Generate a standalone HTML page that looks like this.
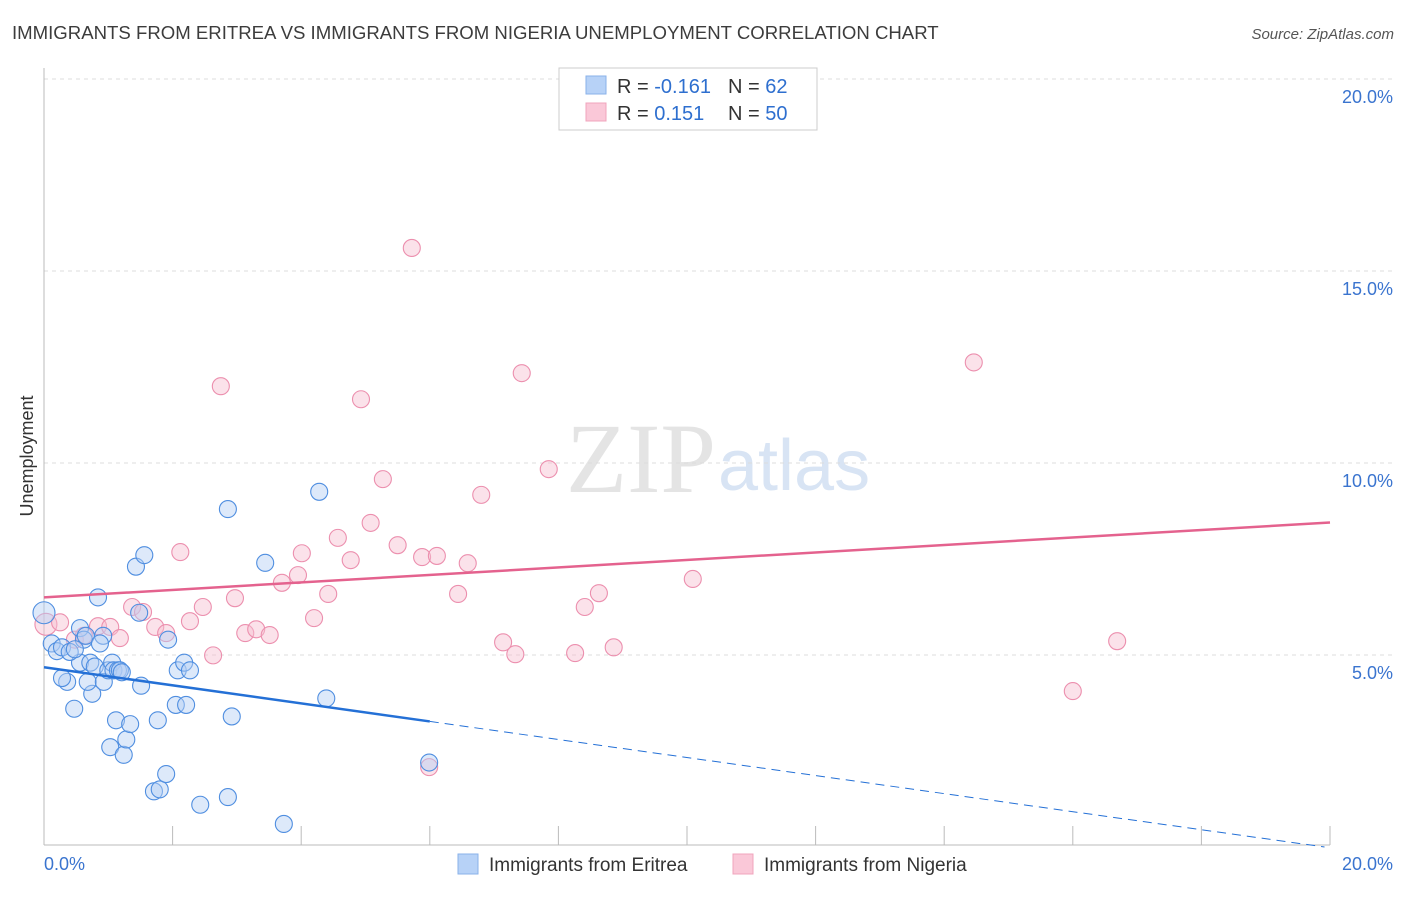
<!DOCTYPE html>
<html><head><meta charset="utf-8"><style>
body{margin:0;background:#fff;font-family:"Liberation Sans",sans-serif}
svg text{font-family:"Liberation Sans",sans-serif}
</style></head><body>
<svg id="chart" width="1406" height="892" xmlns="http://www.w3.org/2000/svg">
<text x="12" y="39" font-size="18.6" fill="#3c3c3c">IMMIGRANTS FROM ERITREA VS IMMIGRANTS FROM NIGERIA UNEMPLOYMENT CORRELATION CHART</text>
<text x="1394" y="39" font-size="15" font-style="italic" fill="#555" text-anchor="end">Source: ZipAtlas.com</text>
<text x="716" y="492" font-size="100" fill="#e4e4e4" text-anchor="end" style="font-family:'Liberation Serif',serif">ZIP</text>
<text x="718" y="490" font-size="72" fill="#d8e4f4">atlas</text>
<text transform="translate(33,456) rotate(-90)" font-size="18" fill="#333" text-anchor="middle">Unemployment</text>
<g id="grid"></g><g id="marks"></g>
<g>
<rect x="559" y="68" width="258" height="62" fill="#fff" stroke="#ccc"/>
<rect x="586" y="76" width="20" height="18" fill="#b7d2f7" stroke="#8ab2ea"/>
<rect x="586" y="103" width="20" height="18" fill="#fac8d8" stroke="#f0a4bc"/>
<text x="617" y="93" font-size="20" fill="#333">R = <tspan fill="#2e6fcf">-0.161</tspan></text>
<text x="728" y="93" font-size="20" fill="#333">N = <tspan fill="#2e6fcf"> 62</tspan></text>
<text x="617" y="120" font-size="20" fill="#333">R = <tspan fill="#2e6fcf"> 0.151</tspan></text>
<text x="728" y="120" font-size="20" fill="#333">N = <tspan fill="#2e6fcf">50</tspan></text>
</g>
<g>
<rect x="458" y="854" width="20" height="20" fill="#b7d2f7" stroke="#8ab2ea"/>
<text x="489" y="871" font-size="19" fill="#333">Immigrants from Eritrea</text>
<rect x="733" y="854" width="20" height="20" fill="#fac8d8" stroke="#f0a4bc"/>
<text x="764" y="871" font-size="19" fill="#333">Immigrants from Nigeria</text>
</g>
</svg>
<script>
const yTicks=[5,10,15,20];
const yTickLabels=["5.0%","10.0%","15.0%","20.0%"];
const xTickLabels=["0.0%","20.0%"];
const eritreaX=[0,0.12,0.2,0.28,0.36,0.28,0.47,0.56,0.62,0.65,0.56,0.72,0.75,0.68,0.79,0.84,0.93,0.92,1.0,1.06,1.08,1.15,1.03,1.12,1.18,1.24,1.28,1.34,1.43,1.48,1.51,1.56,1.71,1.77,1.80,1.90,1.93,2.05,2.08,2.18,2.21,2.27,2.43,2.86,2.86,2.92,3.44,3.73,4.28,4.39,5.99,0.40,0.48,0.87,1.21];
const eritreaY=[6.1,5.3,5.1,5.2,4.3,4.4,3.6,5.7,5.4,5.5,4.8,4.8,3.99,4.3,4.7,6.5,4.3,5.5,4.6,4.8,4.6,4.6,2.6,3.3,4.6,2.4,2.8,3.2,7.3,6.1,4.2,7.6,1.45,3.3,1.5,1.9,5.4,3.7,4.6,4.8,3.7,4.6,1.1,8.8,1.3,3.4,7.4,0.6,9.25,3.87,2.2,5.08,5.15,5.3,4.55];
const nigeriaX=[0.03,0.25,0.48,0.62,0.84,1.03,1.18,1.37,1.54,1.73,1.90,2.12,2.27,2.47,2.63,2.75,2.97,3.13,3.30,3.51,3.70,3.95,4.01,4.20,4.42,4.57,4.77,4.93,5.08,5.27,5.50,5.72,5.88,5.99,6.11,6.44,6.59,6.80,7.14,7.33,7.43,7.85,8.26,8.41,8.63,8.86,10.09,16.00,16.69,14.46];
const nigeriaY=[5.8,5.85,5.4,5.5,5.75,5.73,5.44,6.25,6.12,5.73,5.57,7.68,5.88,6.25,4.99,12.0,6.48,5.57,5.67,5.52,6.88,7.08,7.65,5.96,6.59,8.05,7.47,11.66,8.44,9.58,7.86,15.6,7.55,2.08,7.58,6.59,7.39,9.17,5.33,5.02,12.34,9.84,5.05,6.25,6.61,5.20,6.98,4.06,5.36,12.62];
const eritreaTrend=[4.68,3.27];
const nigeriaTrend=[6.5,8.45];
const X0=44,X1=1330,Y0=847,PY=38.4;
const xs=v=>X0+(v/20)*(X1-X0);
const ys=v=>Y0-v*PY;
const NS="http://www.w3.org/2000/svg";
const svg=document.getElementById('chart');
const grid=document.getElementById('grid');
const marks=document.getElementById('marks');
function mk(tag,attrs,parent){const e=document.createElementNS(NS,tag);for(const k in attrs)e.setAttribute(k,attrs[k]);(parent||svg).appendChild(e);return e;}
yTicks.forEach((t,i)=>{
 const l=mk('line',{x1:X0,x2:1394,y1:ys(t),y2:ys(t),stroke:'#ddd','stroke-dasharray':'4,4'},grid);
 
 
 const tx=mk('text',{x:1393,y:ys(t)+24,'font-size':18,fill:'#3a74cf','text-anchor':'end'},grid);
 tx.textContent=yTickLabels[i];
 
 
});
const ax=mk('line',{x1:X0,x2:X0,y1:68,y2:845,stroke:'#bbb'},grid);


const bx=mk('line',{x1:X0,x2:X1,y1:845,y2:845,stroke:'#bbb'},grid);


for(let i=1;i<=10;i++){
 const tk=mk('line',{x1:xs(i*2),x2:xs(i*2),y1:826,y2:845,stroke:'#bbb'},grid);
 
 
}
const xl0=mk('text',{x:X0,y:870,'font-size':18,fill:'#3a74cf'},grid);xl0.textContent=xTickLabels[0];


const xl1=mk('text',{x:1393,y:870,'font-size':18,fill:'#3a74cf','text-anchor':'end'},grid);xl1.textContent=xTickLabels[1];


function pts(X,Y,fill,stroke,name){X.forEach((x,i)=>{
 const c=mk('circle',{cx:xs(x),cy:ys(Y[i]),r:(i==0?11:8.5),fill:fill,'fill-opacity':0.45,stroke:stroke,'stroke-width':1.1},marks);
 
 
});}
pts(nigeriaX,nigeriaY,'#f7bfd1','#ec8fae','nigeria-point');
pts(eritreaX,eritreaY,'#b3cff3','#4f8ee0','eritrea-point');
const pl=mk('line',{x1:xs(0),y1:ys(nigeriaTrend[0]),x2:xs(20),y2:ys(nigeriaTrend[1]),stroke:'#e4628e','stroke-width':2.5},marks);


const slope=(eritreaTrend[1]-eritreaTrend[0])/6;
const bl=mk('line',{x1:xs(0),y1:ys(eritreaTrend[0]),x2:xs(6),y2:ys(eritreaTrend[1]),stroke:'#2470d6','stroke-width':2.5},marks);


const xEnd=Math.min(20,-eritreaTrend[0]/slope);
const bd=mk('line',{x1:xs(6),y1:ys(eritreaTrend[1]),x2:xs(xEnd),y2:ys(eritreaTrend[0]+slope*xEnd),stroke:'#2470d6','stroke-width':1,'stroke-dasharray':'9,6'},marks);


</script>
</body></html>
